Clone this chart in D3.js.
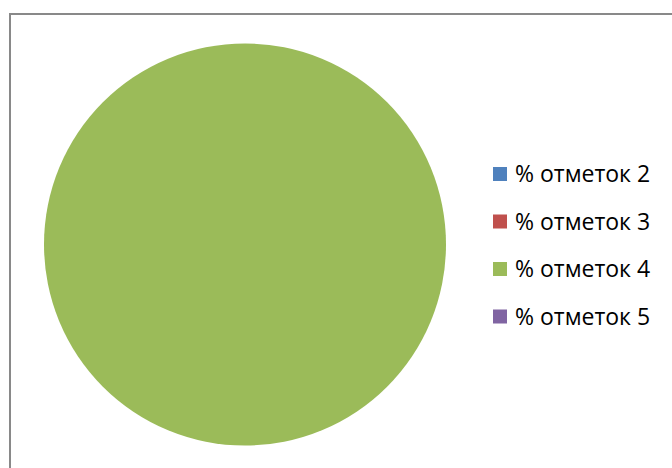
<!DOCTYPE html>
<html>
<head>
<meta charset="utf-8">
<script src="https://cdn.jsdelivr.net/npm/d3@7"></script>
<style>
  body { margin: 0; background: #fff; }
  svg { display: block; }
</style>
</head>
<body>
<svg id="chart"></svg>
<script>
// data
var labels = ["% отметок 2", "% отметок 3", "% отметок 4", "% отметок 5"];
var values = [0, 0, 100, 0];
var colors = ["#4F81BD", "#C0504D", "#9BBB59", "#8064A2"];

var width = 672, height = 468;
var svg = d3.select("#chart").attr("width", width).attr("height", height);

// chart frame (runs off the right and bottom edges)
svg.append("rect")
    .attr("x", 10).attr("y", 14)
    .attr("width", 700).attr("height", 500)
    .attr("fill", "#fff")
    .attr("stroke", "#898989")
    .attr("stroke-width", 2);

var data = labels.map(function (l, i) { return { label: l, value: values[i] }; });

var color = d3.scaleOrdinal().domain(labels).range(colors);

var pie = d3.pie().sort(null).value(d => d.value);
var arc = d3.arc().innerRadius(0).outerRadius(201);

var g = svg.append("g").attr("transform", "translate(245,244.5)");
g.selectAll("path")
    .data(pie(data).filter(d => d.value > 0))
    .enter()
    .append("path")
    .attr("d", arc)
    .attr("fill", d => color(d.data.label));

// legend
var legend = svg.append("g").attr("transform", "translate(493,167)");
var row = d3.scaleBand().domain(labels).range([0, 190]);
var items = legend.selectAll(".item")
    .data(labels)
    .enter()
    .append("g")
    .attr("class", "item")
    .attr("transform", d => "translate(0," + row(d) + ")");
items.append("rect")
    .attr("width", 14).attr("height", 14)
    .attr("fill", d => color(d));
items.append("text")
    .attr("x", 22).attr("y", 7)
    .attr("dy", "0.35em")
    .attr("font-family", "'Open Sans', sans-serif")
    .attr("font-size", 23)
    .attr("fill", "#000")
    .text(d => d);
</script>
</body>
</html>
